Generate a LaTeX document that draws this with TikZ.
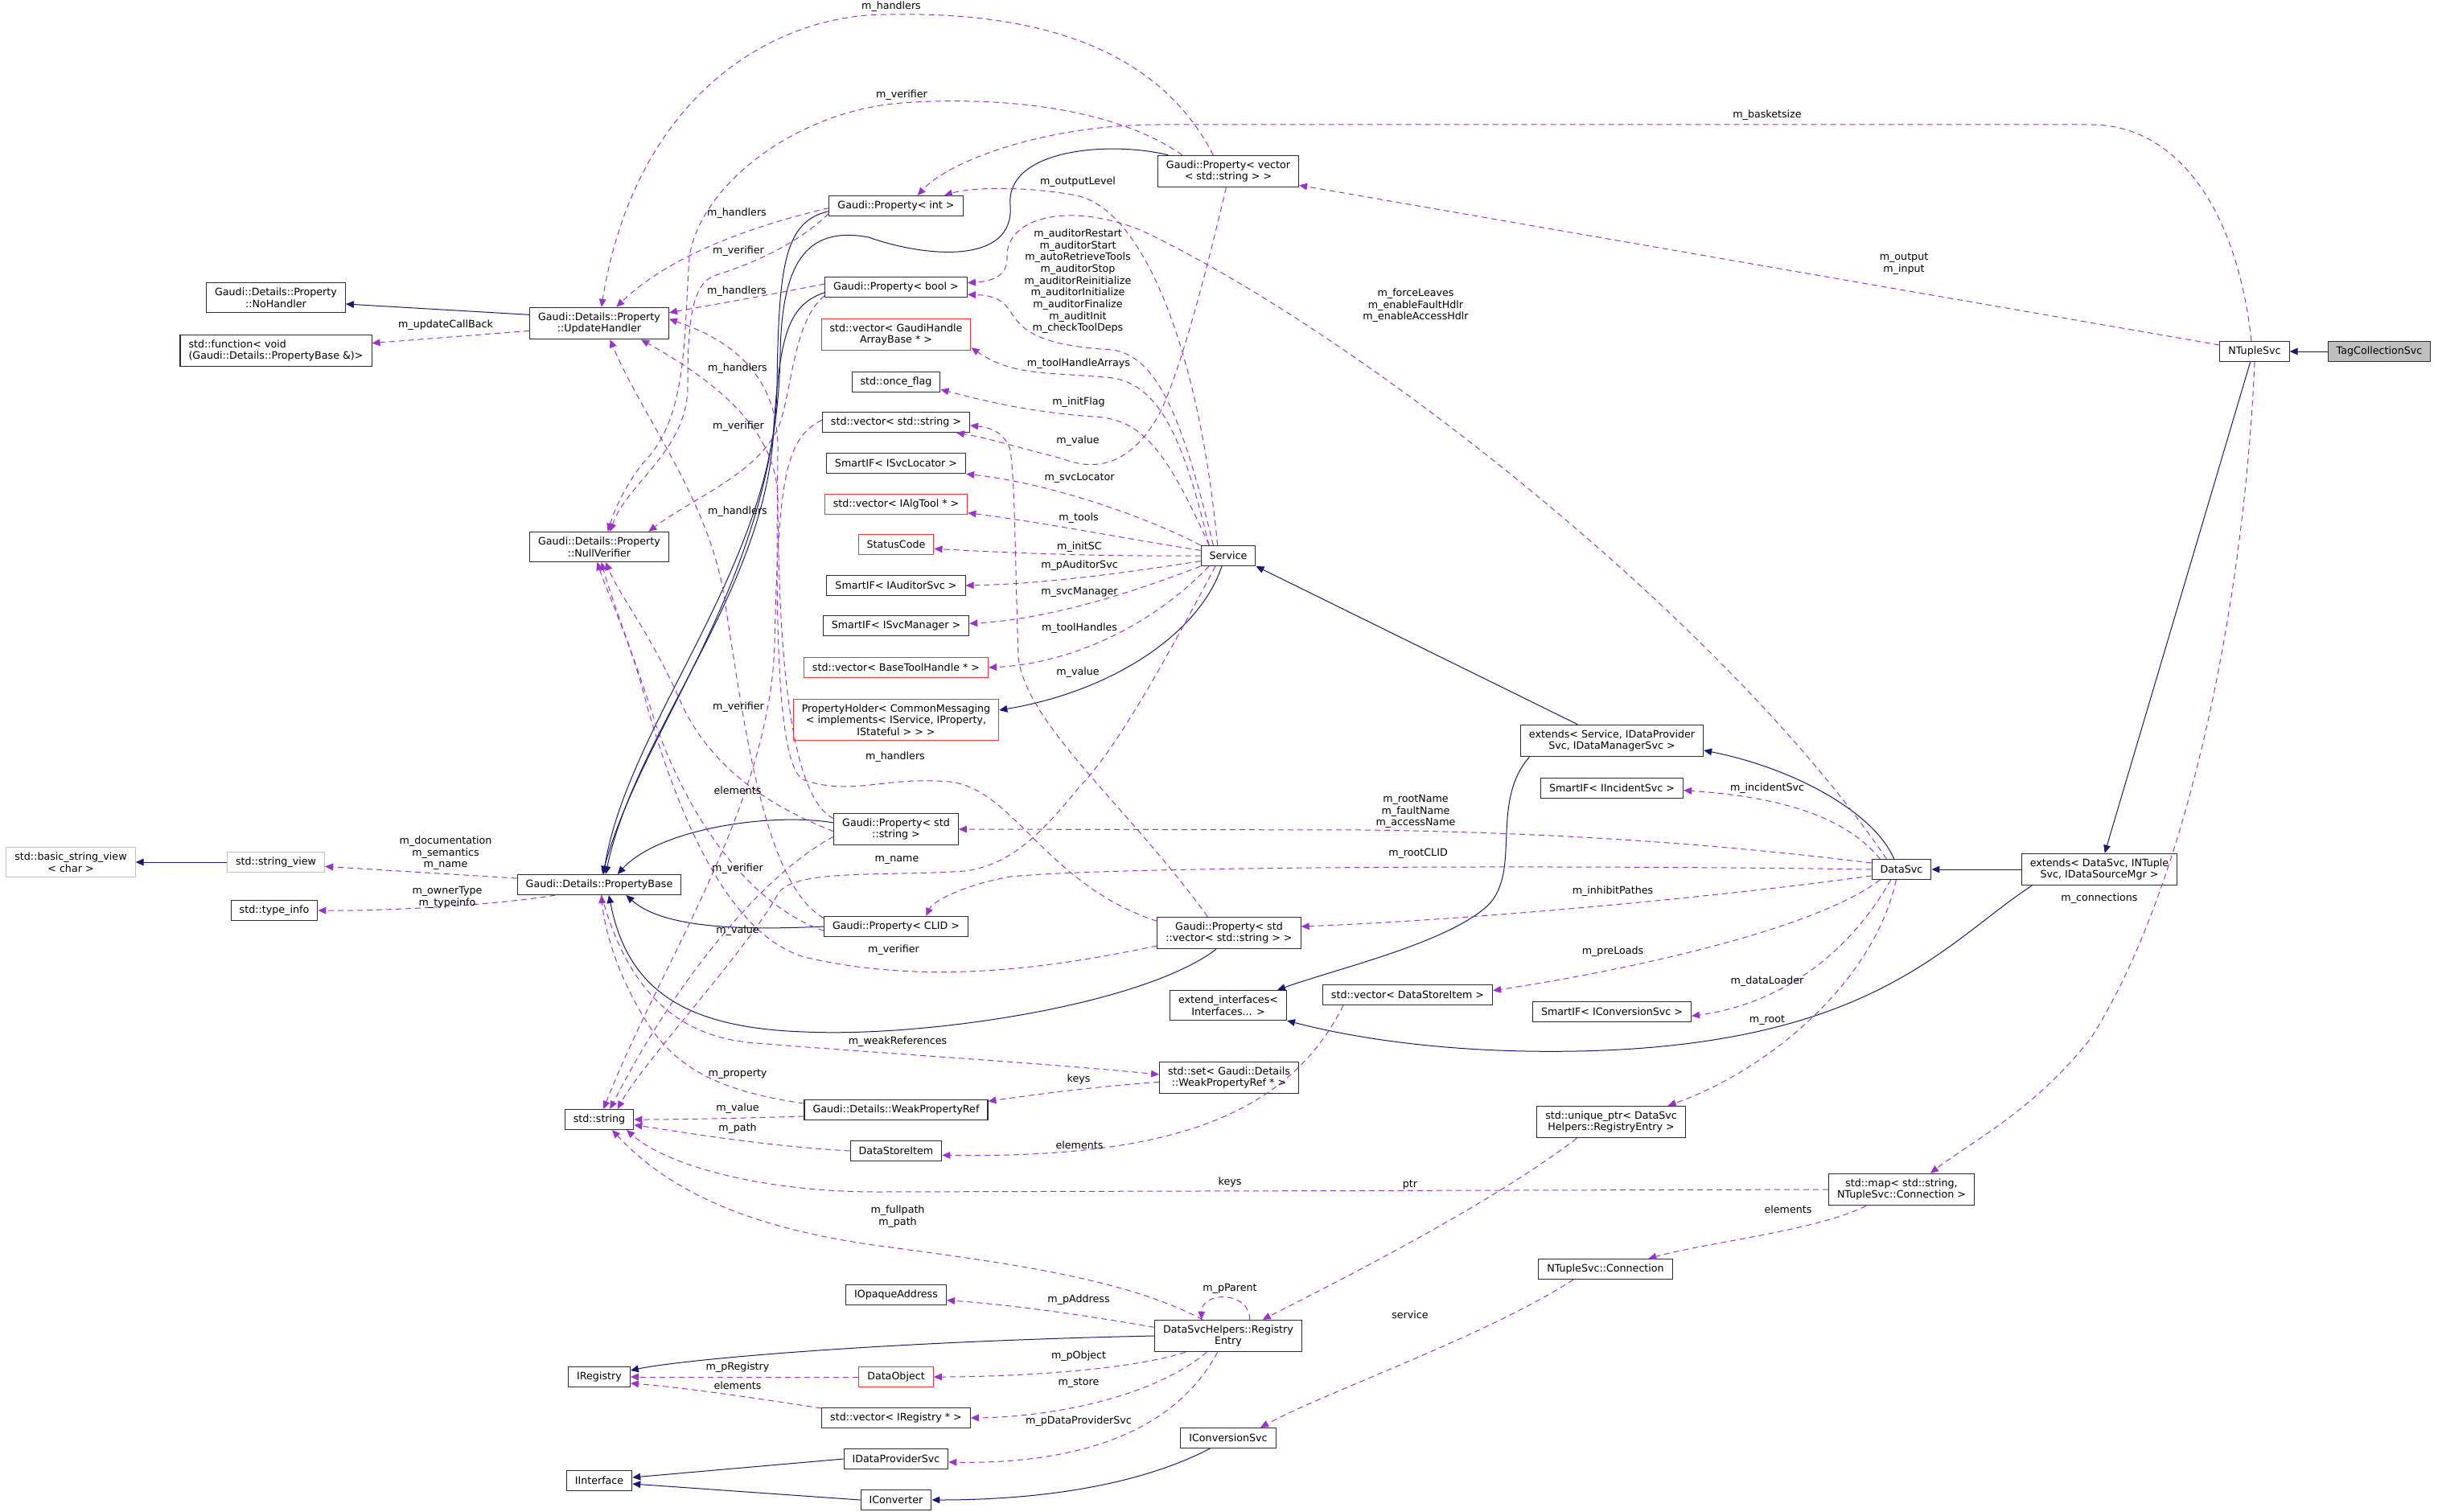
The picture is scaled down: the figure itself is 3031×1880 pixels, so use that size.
\documentclass[tikz,border=0pt]{standalone}
\usepackage{fontspec}
\setmainfont{DejaVu Sans}
\usetikzlibrary{arrows.meta}
\definecolor{Marino}{HTML}{191970}
\definecolor{Violeta}{HTML}{9A32CD}
\definecolor{Borde}{HTML}{2B2B2B}
\definecolor{Rojo}{HTML}{FF3030}
\definecolor{Gris}{HTML}{BFBFBF}

\begin{document}
\begin{tikzpicture}[x=0.75pt,y=-0.75pt,
        clase/.style={draw=Borde,fill=white,line width=0.8pt,font=\fontsize{9.5}{11}\selectfont,inner xsep=7.9pt,inner ysep=4.7pt,minimum height=18.75pt,align=center},
        claseroja/.style={clase,draw=Rojo},
        clasegris/.style={clase,draw=Gris},
        clasefoco/.style={clase,fill=Gris},
        hereda/.style={-{Triangle[length=7.5pt,width=6.5pt]},draw=Marino,line width=0.75pt},
        usa/.style={-{Triangle[length=7.5pt,width=6.5pt]},draw=Violeta,line width=0.75pt,dash pattern=on 5.25pt off 3.75pt},
        rotulo/.style={font=\fontsize{9.5}{11}\selectfont,inner sep=0pt,align=center}]
        \useasboundingbox (0,0) rectangle (3031,1880);
        % clases de la derecha
        \node[clasefoco] (tcs) at (2958,437) {TagCollectionSvc};
        \node[clase] (nts) at (2803,437) {NTupleSvc};
        \node[clase] (exds) at (2610,1081) {extends< DataSvc, INTuple\\Svc, IDataSourceMgr >};
        \node[clase] (dsvc) at (2364,1081) {DataSvc};
        \node[clase] (exsv) at (2004,921) {extends< Service, IDataProvider\\Svc, IDataManagerSvc >};
        \node[clase] (incs) at (2004,980) {SmartIF< IIncidentSvc >};
        \node[clase] (cnvs) at (2004,1258) {SmartIF< IConversionSvc >};
        \node[clase] (vdsi) at (1750,1237) {std::vector< DataStoreItem >};
        \node[clase] (uptr) at (2003,1395) {std::unique\_ptr< DataSvc\\Helpers::RegistryEntry >};
        \node[clase] (smap) at (2364,1479) {std::map< std::string,\\ NTupleSvc::Connection >};
        \node[clase] (ntcn) at (1996,1578) {NTupleSvc::Connection};
        \node[clase] (icnv) at (1527,1788) {IConversionSvc};
        \node[clase] (rent) at (1527,1661) {DataSvcHelpers::Registry\\Entry};
        \node[clase] (svc) at (1527,691) {Service};
        \node[clase] (pvec) at (1527,213) {Gaudi::Property< vector\\< std::string > >};
        \node[clase] (pvss) at (1528,1160) {Gaudi::Property< std\\::vector< std::string > >};
        \node[clase] (exif) at (1527,1250) {extend\_interfaces<\\ Interfaces... >};
        \node[clase] (sset) at (1528,1340) {std::set< Gaudi::Details\\::WeakPropertyRef * >};
        % columna central
        \node[clase] (pint) at (1114,256) {Gaudi::Property< int >};
        \node[clase] (pbool) at (1114,357) {Gaudi::Property< bool >};
        \node[claseroja] (vgha) at (1114,416) {std::vector< GaudiHandle\\ArrayBase * >};
        \node[clase] (once) at (1114,475) {std::once\_flag};
        \node[clase] (vstr) at (1114,525) {std::vector< std::string >};
        \node[clase] (sisl) at (1114,576) {SmartIF< ISvcLocator >};
        \node[claseroja] (valg) at (1114,627) {std::vector< IAlgTool * >};
        \node[claseroja] (stc) at (1114,677) {StatusCode};
        \node[clase] (siau) at (1114,728) {SmartIF< IAuditorSvc >};
        \node[clase] (sism) at (1114,778) {SmartIF< ISvcManager >};
        \node[claseroja] (vbth) at (1114,830) {std::vector< BaseToolHandle * >};
        \node[claseroja] (phld) at (1114,895) {PropertyHolder< CommonMessaging\\< implements< IService, IProperty,\\ IStateful > > >};
        \node[clase] (pstr) at (1114,1031) {Gaudi::Property< std\\::string >};
        \node[clase] (pclid) at (1114,1152) {Gaudi::Property< CLID >};
        \node[clase] (wpr) at (1114,1380) {Gaudi::Details::WeakPropertyRef};
        \node[clase] (dsi) at (1114,1431) {DataStoreItem};
        \node[clase] (iopa) at (1114,1610) {IOpaqueAddress};
        \node[claseroja] (dobj) at (1114,1712) {DataObject};
        \node[clase] (vreg) at (1114,1763) {std::vector< IRegistry * >};
        \node[clase] (idps) at (1114,1814) {IDataProviderSvc};
        \node[clase] (icvt) at (1114,1865) {IConverter};
        % columna izquierda
        \node[clase] (uh) at (745,402) {Gaudi::Details::Property\\::UpdateHandler};
        \node[clase] (nv) at (745,680) {Gaudi::Details::Property\\::NullVerifier};
        \node[clase] (pb) at (745,1100) {Gaudi::Details::PropertyBase};
        \node[clase] (str) at (745,1392) {std::string};
        \node[clase] (ireg) at (745,1712) {IRegistry};
        \node[clase] (iint) at (745,1841) {IInterface};
        \node[clase] (nh) at (343,370) {Gaudi::Details::Property\\::NoHandler};
        \node[clase,align=left] (sfn) at (343,436) {std::function< void\\(Gaudi::Details::PropertyBase \&)>};
        \node[clasegris] (sv) at (343,1072) {std::string\_view};
        \node[clase] (ti) at (341,1132) {std::type\_info};
        \node[clasegris] (bsv) at (88,1072) {std::basic\_string\_view\\< char >};
        % herencia
        \draw[hereda] (tcs) -- (nts);
        \draw[hereda] ([xshift=-4pt]nts.south) -- ([xshift=5pt]exds.north);
        \draw[hereda] (exds) -- (dsvc);
        \draw[hereda] ([xshift=-7pt]dsvc.north) .. controls (2330,1010) and (2230,955) .. ([yshift=-9pt]exsv.east);
        \draw[hereda] ([xshift=-32pt]exsv.north) -- (svc.south east);
        \draw[hereda] ([xshift=-77pt]exsv.south) .. controls (1850,1000) and (1895,1090) .. (1845,1130) .. controls (1790,1175) and (1660,1205) .. ([xshift=-9pt]exif.north east);
        \draw[hereda] ([xshift=-63pt]exds.south) .. controls (2420,1170) and (2330,1300) .. (1960,1307) .. controls (1800,1310) and (1680,1290) .. (exif.south east);
        \draw[hereda] ([xshift=-6pt]svc.south) .. controls (1490,790) and (1380,860) .. ([yshift=9pt]phld.east);
        \draw[hereda] (rent.west) .. controls (1100,1668) and (850,1690) .. ([yshift=6pt]ireg.east);
        \draw[hereda] (idps.west) -- ([yshift=3pt]iint.east);
        \draw[hereda] (icvt.west) -- ([yshift=-3pt]iint.east);
        \draw[hereda] ([xshift=-17pt]icnv.south) .. controls (1420,1845) and (1300,1865) .. (icvt.east);
        \draw[hereda] ([yshift=8pt]uh.west) -- ([yshift=-6pt]nh.east);
        \draw[hereda] (sv) -- (bsv);
        \draw[hereda] ([yshift=-5pt]pint.west) .. controls (975,275) and (968,330) .. (966,480) .. controls (964,700) and (780,900) .. ([xshift=4pt]pb.north);
        \draw[hereda] ([yshift=-5pt]pbool.west) .. controls (978,380) and (970,420) .. (962,530) .. controls (955,730) and (790,910) .. ([xshift=6pt]pb.north);
        \draw[hereda] ([xshift=-56pt]pvec.north) .. controls (1380,175) and (1250,185) .. (1256,255) .. controls (1262,330) and (1150,320) .. (1080,295) .. controls (1000,280) and (972,330) .. (970,440) .. controls (966,720) and (800,900) .. ([xshift=3pt]pb.north);
        \draw[hereda] ([yshift=6pt]pstr.west) .. controls (960,1010) and (820,1030) .. ([xshift=17pt]pb.north);
        \draw[hereda] (pclid.west) .. controls (900,1158) and (820,1150) .. ([xshift=25pt]pb.south);
        \draw[hereda] ([xshift=-12pt]pvss.south) .. controls (1420,1250) and (1150,1290) .. (1000,1283) .. controls (850,1278) and (780,1230) .. ([xshift=9pt]pb.south);
        % miembros
        \draw[usa] ([yshift=-7pt]uh.west) -- ([yshift=7pt]sfn.east);
        \draw[usa] ([yshift=6pt]pb.west) -- ([yshift=-4pt]sv.east);
        \draw[usa] ([xshift=-41pt]pb.south) .. controls (620,1125) and (480,1133) .. (ti.east);
        \draw[usa] ([xshift=2pt]pb.south) .. controls (780,1230) and (840,1290) .. (940,1297) .. controls (1100,1310) and (1300,1322) .. ([yshift=3pt]sset.west);
        \draw[usa] ([yshift=-4pt]sset.west) .. controls (1350,1352) and (1280,1362) .. ([yshift=8pt]wpr.east);
        \draw[usa] ([yshift=6pt]wpr.west) .. controls (880,1355) and (840,1320) .. (810,1280) .. controls (770,1220) and (752,1160) .. ([xshift=2pt]pb.south);
        \draw[usa] ([yshift=-6pt]wpr.west) .. controls (930,1390) and (850,1392) .. (str.east);
        \draw[usa] (dsi.west) .. controls (950,1425) and (850,1408) .. ([yshift=-5pt]str.east);
        \draw[usa] ([xshift=-60pt]vdsi.south) .. controls (1600,1390) and (1450,1440) .. ([yshift=-4pt]dsi.east);
        \draw[usa] (smap.west) -- (1091,1482) .. controls (950,1482) and (830,1450) .. ([xshift=-7pt]str.south east);
        \draw[usa] ([xshift=-33pt]smap.south) .. controls (2260,1530) and (2120,1545) .. ([xshift=40pt]ntcn.north);
        \draw[usa] ([xshift=-30pt]ntcn.south) .. controls (1850,1660) and (1650,1730) .. ([xshift=30pt]icnv.north);
        \draw[usa] (nts.south) .. controls (2790,750) and (2720,1100) .. (2600,1290) .. controls (2530,1380) and (2450,1420) .. ([xshift=27pt]smap.north);
        \draw[usa] ([yshift=6pt]nts.west) -- ([yshift=-13pt]pvec.east);
        \draw[usa] ([xshift=-3pt]nts.north) .. controls (2780,250) and (2700,155) .. (2600,155) -- (1440,155) .. controls (1300,155) and (1180,200) .. ([xshift=20pt]pint.north);
        \draw[usa] ([xshift=-10pt]svc.north) .. controls (1490,430) and (1420,260) .. (1338,243) .. controls (1280,232) and (1210,232) .. ([xshift=45pt]pint.north);
        \draw[usa] ([xshift=-14pt]svc.north) .. controls (1470,520) and (1440,445) .. (1384,435) .. controls (1290,430) and (1270,410) .. (1256,387) .. controls (1245,370) and (1230,367) .. ([yshift=-7pt]pbool.east);
        \draw[usa] ([xshift=-14pt]dsvc.north) .. controls (2150,780) and (1700,420) .. (1420,287) .. controls (1330,250) and (1250,270) .. (1252,320) .. controls (1253,345) and (1230,350) .. ([yshift=4pt]pbool.east);
        \draw[usa] ([xshift=-18pt]svc.north) .. controls (1470,540) and (1440,480) .. (1384,470) .. controls (1300,462) and (1260,468) .. ([yshift=3pt]vgha.south east);
        \draw[usa] ([xshift=8pt]svc.north west) .. controls (1450,560) and (1420,520) .. (1358,518) .. controls (1280,512) and (1230,500) .. ([yshift=-7pt]once.east);
        \draw[usa] ([xshift=-2pt]pvec.south) .. controls (1490,380) and (1460,480) .. (1440,517) .. controls (1410,570) and (1370,590) .. (1320,570) .. controls (1260,555) and (1230,545) .. ([xshift=-13pt]vstr.south east);
        \draw[usa] ([xshift=-20pt]pvss.north) .. controls (1400,1000) and (1275,900) .. (1266,817) .. controls (1262,700) and (1262,600) .. (1256,560) .. controls (1250,540) and (1235,532) .. ([yshift=-3pt]vstr.east);
        \draw[usa] (svc.north west) .. controls (1420,640) and (1300,600) .. ([yshift=-10pt]sisl.east);
        \draw[usa] ([yshift=5pt]svc.west) .. controls (1400,670) and (1300,650) .. ([yshift=-8pt]valg.east);
        \draw[usa] (svc.west) .. controls (1350,692) and (1250,687) .. ([yshift=-4pt]stc.east);
        \draw[usa] ([yshift=-5pt]svc.west) .. controls (1400,712) and (1300,726) .. (siau.east);
        \draw[usa] (svc.south west) .. controls (1400,740) and (1300,770) .. ([yshift=2pt]sism.east);
        \draw[usa] ([xshift=-18pt]svc.south) .. controls (1430,780) and (1330,825) .. (vbth.east);
        \draw[usa] ([xshift=-12pt]svc.south) .. controls (1460,800) and (1390,930) .. (1343,977) .. controls (1300,1030) and (1260,1075) .. (1200,1083) .. controls (1100,1090) and (990,1080) .. (968,1110) .. controls (930,1180) and (800,1320) .. ([xshift=17pt]str.north);
        \draw[usa] ([yshift=6pt]dsvc.west) .. controls (2100,1045) and (1900,1035) .. (1700,1032) -- (pstr.east);
        \draw[usa] (dsvc.west) .. controls (2000,1076) and (1400,1076) .. (1256,1090) .. controls (1200,1100) and (1160,1120) .. ([xshift=28pt]pclid.north);
        \draw[usa] ([yshift=-6pt]dsvc.west) .. controls (2100,1120) and (1800,1145) .. ([yshift=6pt]pvss.east);
        \draw[usa] ([xshift=-20pt]dsvc.south) .. controls (2250,1160) and (2000,1210) .. ([yshift=4pt]vdsi.east);
        \draw[usa] ([xshift=-10pt]dsvc.south) .. controls (2290,1200) and (2200,1250) .. ([yshift=-4pt]cnvs.east);
        \draw[usa] ([xshift=-20pt]dsvc.north) .. controls (2290,1010) and (2200,990) .. ([yshift=-2pt]incs.east);
        \draw[usa] ([xshift=-5pt]dsvc.south) .. controls (2330,1220) and (2200,1330) .. ([xshift=53pt]uptr.north);
        \draw[usa] ([xshift=-32pt]uptr.south) .. controls (1850,1500) and (1650,1600) .. ([xshift=32pt]rent.north);
        \draw[usa] ([xshift=20pt]rent.north) .. controls (1554,1605) and (1494,1605) .. ([xshift=-25pt]rent.north);
        \draw[usa] ([xshift=-24pt]rent.north) .. controls (1400,1590) and (1250,1570) .. (1100,1550) .. controls (950,1530) and (840,1490) .. ([xshift=12pt]str.south);
        \draw[usa] ([yshift=8pt]rent.west) .. controls (1330,1632) and (1250,1622) .. ([yshift=-5pt]iopa.east);
        \draw[usa] ([xshift=-40pt]rent.south) .. controls (1400,1705) and (1250,1712) .. (dobj.east);
        \draw[usa] ([xshift=-20pt]rent.south) .. controls (1430,1740) and (1300,1762) .. (vreg.east);
        \draw[usa] ([xshift=-10pt]rent.south) .. controls (1450,1800) and (1300,1820) .. ([yshift=-3pt]idps.east);
        \draw[usa] (dobj.west) -- (ireg.east);
        \draw[usa] ([yshift=9pt]vreg.west) .. controls (950,1740) and (850,1725) .. ([yshift=-6pt]ireg.east);
        \draw[usa] ([yshift=2pt]vstr.west) .. controls (975,545) and (968,600) .. (963,800) .. controls (958,1000) and (820,1200) .. ([xshift=4pt]str.north);
        \draw[usa] ([yshift=-7pt]pstr.west) .. controls (960,1080) and (850,1200) .. ([xshift=10pt]str.north);
        % m_handlers y m_verifier
        \draw[usa] ([xshift=-14pt]pvec.north) .. controls (1430,40) and (1250,15) .. (1102,18) .. controls (960,18) and (790,120) .. ([xshift=2pt]uh.north);
        \draw[usa] ([xshift=-43pt]pvec.north) .. controls (1380,130) and (1230,120) .. (1121,128) .. controls (990,138) and (870,230) .. (857,320) .. controls (850,420) and (855,520) .. (800,575) .. controls (780,600) and (765,630) .. ([xshift=8pt]nv.north);
        \draw[usa] ([yshift=-2pt]pint.west) .. controls (960,275) and (840,310) .. ([xshift=16pt]uh.north);
        \draw[usa] ([yshift=-7pt]pint.west) .. controls (990,305) and (930,330) .. (887,343) .. controls (860,355) and (855,400) .. (855,480) .. controls (855,560) and (780,600) .. ([xshift=10pt]nv.north);
        \draw[usa] ([yshift=3pt]pbool.west) .. controls (950,368) and (880,380) .. ([yshift=10pt]uh.east);
        \draw[usa] ([yshift=-8pt]pbool.west) .. controls (985,400) and (985,490) .. (967,533) .. controls (940,590) and (860,620) .. ([xshift=46pt]nv.north);
        \draw[usa] ([yshift=10pt]pstr.west) .. controls (980,990) and (968,800) .. (967,620) .. controls (966,540) and (900,480) .. ([xshift=39pt]uh.south);
        \draw[usa] ([yshift=-2pt]pstr.west) .. controls (950,1000) and (880,950) .. (845,870) .. controls (810,790) and (770,740) .. ([xshift=6pt]nv.south);
        \draw[usa] ([yshift=8pt]pclid.west) .. controls (950,1100) and (925,900) .. (900,740) .. controls (880,620) and (800,520) .. ([xshift=10pt]uh.south);
        \draw[usa] ([yshift=-4pt]pclid.west) .. controls (920,1120) and (850,1000) .. (815,900) .. controls (790,820) and (765,760) .. ([xshift=2pt]nv.south);
        \draw[usa] ([yshift=11pt]pvss.west) .. controls (1300,1100) and (1260,980) .. (1180,972) .. controls (1100,965) and (1060,990) .. (1000,970) .. controls (960,955) and (966,700) .. (967,560) .. controls (968,460) and (900,420) .. ([yshift=4pt]uh.east);
        \draw[usa] ([yshift=-12pt]pvss.west) .. controls (1300,1205) and (1150,1225) .. (1000,1190) .. controls (900,1160) and (840,1000) .. (805,880) .. controls (785,800) and (760,750) .. ([xshift=-2pt]nv.south);
        % rotulos
        \node[rotulo] (t01) at (554,404) {m\_updateCallBack};
        \node[rotulo] (t02) at (554,1061) {m\_documentation\\m\_semantics\\m\_name};
        \node[rotulo] (t03) at (556,1116) {m\_ownerType\\m\_typeinfo};
        \node[rotulo] (t04) at (1116,1295) {m\_weakReferences};
        \node[rotulo] (t05) at (1341,1342) {keys};
        \node[rotulo] (t06) at (917,1336) {m\_property};
        \node[rotulo] (t07) at (917,1378) {m\_value};
        \node[rotulo] (t08) at (917,1403) {m\_path};
        \node[rotulo] (t09) at (1342,1424) {elements};
        \node[rotulo] (t10) at (1529,1470) {keys};
        \node[rotulo] (t11) at (2223,1504) {elements};
        \node[rotulo] (t12) at (1753,1635) {service};
        \node[rotulo] (t13) at (2610,1117) {m\_connections};
        \node[rotulo] (t14) at (2367,328) {m\_output\\m\_input};
        \node[rotulo] (t15) at (2197,143) {m\_basketsize};
        \node[rotulo] (t16) at (1340,226) {m\_outputLevel};
        \node[rotulo] (t17) at (1340,350) {m\_auditorRestart\\m\_auditorStart\\m\_autoRetrieveTools\\m\_auditorStop\\m\_auditorReinitialize\\m\_auditorInitialize\\m\_auditorFinalize\\m\_auditInit\\m\_checkToolDeps};
        \node[rotulo] (t18) at (1760,380) {m\_forceLeaves\\m\_enableFaultHdlr\\m\_enableAccessHdlr};
        \node[rotulo] (t19) at (1341,452) {m\_toolHandleArrays};
        \node[rotulo] (t20) at (1341,500) {m\_initFlag};
        \node[rotulo] (t21) at (1340,548) {m\_value};
        \node[rotulo] (t22) at (1340,836) {m\_value};
        \node[rotulo] (t23) at (1342,594) {m\_svcLocator};
        \node[rotulo] (t24) at (1341,644) {m\_tools};
        \node[rotulo] (t25) at (1342,680) {m\_initSC};
        \node[rotulo] (t26) at (1342,703) {m\_pAuditorSvc};
        \node[rotulo] (t27) at (1342,736) {m\_svcManager};
        \node[rotulo] (t28) at (1342,781) {m\_toolHandles};
        \node[rotulo] (t29) at (1115,1069) {m\_name};
        \node[rotulo] (t30) at (1760,1009) {m\_rootName\\m\_faultName\\m\_accessName};
        \node[rotulo] (t31) at (1763,1061) {m\_rootCLID};
        \node[rotulo] (t32) at (2005,1108) {m\_inhibitPathes};
        \node[rotulo] (t33) at (2005,1183) {m\_preLoads};
        \node[rotulo] (t34) at (2197,1220) {m\_dataLoader};
        \node[rotulo] (t35) at (2197,980) {m\_incidentSvc};
        \node[rotulo] (t36) at (2197,1269) {m\_root};
        \node[rotulo] (t37) at (1753,1473) {ptr};
        \node[rotulo] (t38) at (1529,1602) {m\_pParent};
        \node[rotulo] (t39) at (1116,1513) {m\_fullpath\\m\_path};
        \node[rotulo] (t40) at (1341,1616) {m\_pAddress};
        \node[rotulo] (t41) at (1341,1686) {m\_pObject};
        \node[rotulo] (t42) at (1341,1720) {m\_store};
        \node[rotulo] (t43) at (1341,1767) {m\_pDataProviderSvc};
        \node[rotulo] (t44) at (917,1700) {m\_pRegistry};
        \node[rotulo] (t45) at (917,1723) {elements};
        \node[rotulo] (t46) at (917,983) {elements};
        \node[rotulo] (t47) at (917,1157) {m\_value};
        \node[rotulo] (t48) at (1108,8) {m\_handlers};
        \node[rotulo] (t49) at (1121,118) {m\_verifier};
        \node[rotulo] (t50) at (916,265) {m\_handlers};
        \node[rotulo] (t51) at (918,312) {m\_verifier};
        \node[rotulo] (t52) at (916,362) {m\_handlers};
        \node[rotulo] (t53) at (918,530) {m\_verifier};
        \node[rotulo] (t54) at (917,458) {m\_handlers};
        \node[rotulo] (t55) at (918,879) {m\_verifier};
        \node[rotulo] (t56) at (917,636) {m\_handlers};
        \node[rotulo] (t57) at (917,1080) {m\_verifier};
        \node[rotulo] (t58) at (1113,941) {m\_handlers};
        \node[rotulo] (t59) at (1111,1181) {m\_verifier};
\end{tikzpicture}
\end{document}
